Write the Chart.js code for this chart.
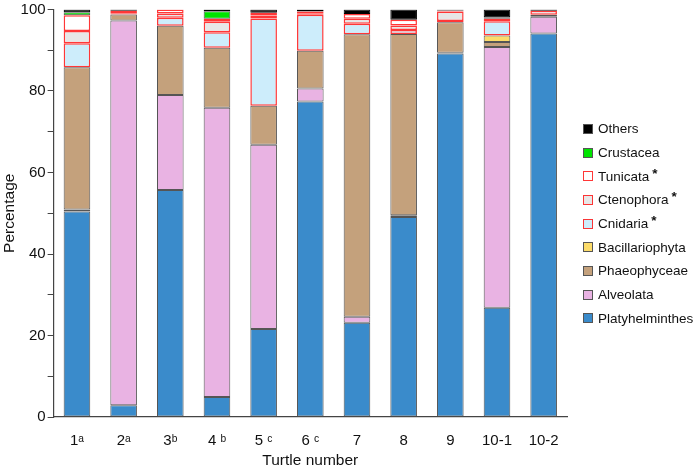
<!DOCTYPE html>
<html>
<head>
<meta charset="utf-8">
<script src="https://cdn.jsdelivr.net/npm/chart.js@4.4.1/dist/chart.umd.min.js"></script>
<style>
  body { margin: 0; background: #fff; }
  #wrap { position: relative; width: 694px; height: 470px; }
  #legend { position: absolute; left: 583px; top: 117px; font: 13.5px "Liberation Sans", Arial, sans-serif; color: #111; }
  #legend .item { height: 23.7px; display: flex; align-items: center; white-space: nowrap; }
  #legend .box { width: 8px; height: 8px; margin-right: 5px; box-sizing: content-box; }
  #legend .star { font-weight: bold; position: relative; top: -3px; margin-left: 3px; }
  #xtitle { position: absolute; top: 451px; line-height: 20px; font: 15.5px "Liberation Sans", Arial, sans-serif; color: #111; white-space: nowrap; }
</style>
</head>
<body>
<div id="wrap">
  <canvas id="chart" width="694" height="470"></canvas>
  <div id="legend"></div>
  <div id="xtitle"></div>
</div>
<script>
// Datos (porcentajes por tortuga)
const turtles = ["1ᵃ", "2ᵃ", "3ᵇ", "4 ᵇ", "5 ᶜ", "6 ᶜ", "7", "8", "9", "10-1", "10-2"];

const platyhelminthes = [50.4, 2.9, 55.7, 4.9, 21.6, 77.4, 23.1, 49.1, 89.2, 26.8, 94.1];
const alveolata       = [0.5, 94.4, 23.3, 71.0, 45.2, 3.2, 1.5, 0.4, 0.2, 64.0, 4.1];
const phaeophyceae    = [34.9, 1.5, 17.0, 14.7, 9.6, 9.3, 69.3, 44.5, 7.5, 1.2, 0.5];
const bacillariophyta = [null, null, null, null, null, null, null, null, null, 1.6, null];
const cnidaria        = [5.9, 0.3, 2.0, 3.8, 21.4, 8.8, 2.6, 1.0, 0.3, 3.5, null];
const ctenophora      = [3.0, null, 1.0, 2.6, 0.7, 0.4, 1.2, 1.1, 2.3, null, 1.0];
const tunicata        = [3.9, 0.6, 1.0, 0.7, 0.7, 0.4, 1.2, 1.4, 0.2, 0.6, null];
const crustacea       = [0.7, null, null, 1.9, null, null, null, null, 0.3, 0.4, null];
const others          = [0.7, 0.3, null, 0.4, 0.8, 0.5, 1.1, 2.5, null, 1.9, 0.3];

const yTicks = [0, 20, 40, 60, 80, 100];

const FONT = '"Liberation Sans", Arial, sans-serif';
const RED = "rgba(255, 20, 20, 0.85)";
const EDGE = "#555";

const series = [
  { label: "Platyhelminthes", data: platyhelminthes, fill: "#3a8bcb", edge: EDGE },
  { label: "Alveolata", data: alveolata, fill: "#e9b3e3", edge: EDGE },
  { label: "Phaeophyceae", data: phaeophyceae, fill: "#c4a17c", edge: EDGE },
  { label: "Bacillariophyta", data: bacillariophyta, fill: "#fcdc6a", edge: EDGE },
  { label: "Cnidaria", data: cnidaria, fill: "#cdedfb", edge: RED, star: true },
  { label: "Ctenophora", data: ctenophora, fill: "#e7e7e7", edge: RED, star: true },
  { label: "Tunicata", data: tunicata, fill: "#ffffff", edge: RED, star: true },
  { label: "Crustacea", data: crustacea, fill: "#00e400", edge: EDGE },
  { label: "Others", data: others, fill: "#000000", edge: "#000" },
];

const datasets = series.map((s) => ({
  label: s.label,
  data: s.data,
  backgroundColor: s.fill,
  borderColor: s.edge,
  borderWidth: s.edge === RED ? 1.5 : 1,
  borderSkipped: false,
  barPercentage: 0.57,
  categoryPercentage: 1,
}));

const ctx = document.getElementById("chart").getContext("2d");
const chart = new Chart(ctx, {
  type: "bar",
  data: { labels: turtles, datasets: datasets },
  options: {
    responsive: false,
    animation: false,
    layout: { padding: { left: 0, right: 127, top: 0, bottom: 5 } },
    plugins: { legend: { display: false }, tooltip: { enabled: false } },
    scales: {
      x: {
        stacked: true,
        grid: { display: false, drawTicks: false, tickLength: 0 },
        border: { display: true, color: "#444", width: 1.2 },
        ticks: { color: "#111", padding: 15, font: { family: FONT, size: 15 } },
      },
      y: {
        stacked: true,
        min: 0,
        max: 100,
        ticks: {
          stepSize: 10,
          color: "#111",
          padding: 2,
          font: { family: FONT, size: 15, lineHeight: 1 },
          callback: (v) => (yTicks.includes(v) ? v : ""),
        },
        grid: { drawOnChartArea: false, drawTicks: true, tickLength: 6, color: "#444" },
        border: { display: true, color: "#444", width: 1.2 },
        title: { display: true, text: "Percentage", color: "#111", padding: { top: 0, bottom: 0 }, font: { family: FONT, size: 15.5 } },
      },
    },
  },
});

// Título del eje X centrado bajo el área del gráfico
const xtitle = document.getElementById("xtitle");
xtitle.textContent = "Turtle number";
const area = chart.chartArea;
xtitle.style.left = (area.left + area.right) / 2 - xtitle.offsetWidth / 2 + "px";

// Leyenda (orden inverso, como en la figura)
const legend = document.getElementById("legend");
series.slice().reverse().forEach((s) => {
  const item = document.createElement("div");
  item.className = "item";
  const box = document.createElement("span");
  box.className = "box";
  box.style.background = s.fill;
  box.style.border = s.edge === RED ? "1.5px solid " + RED : "1px solid " + EDGE;
  item.appendChild(box);
  item.appendChild(document.createTextNode(s.label));
  if (s.star) {
    const star = document.createElement("span");
    star.className = "star";
    star.textContent = "*";
    item.appendChild(star);
  }
  legend.appendChild(item);
});
</script>
</body>
</html>
